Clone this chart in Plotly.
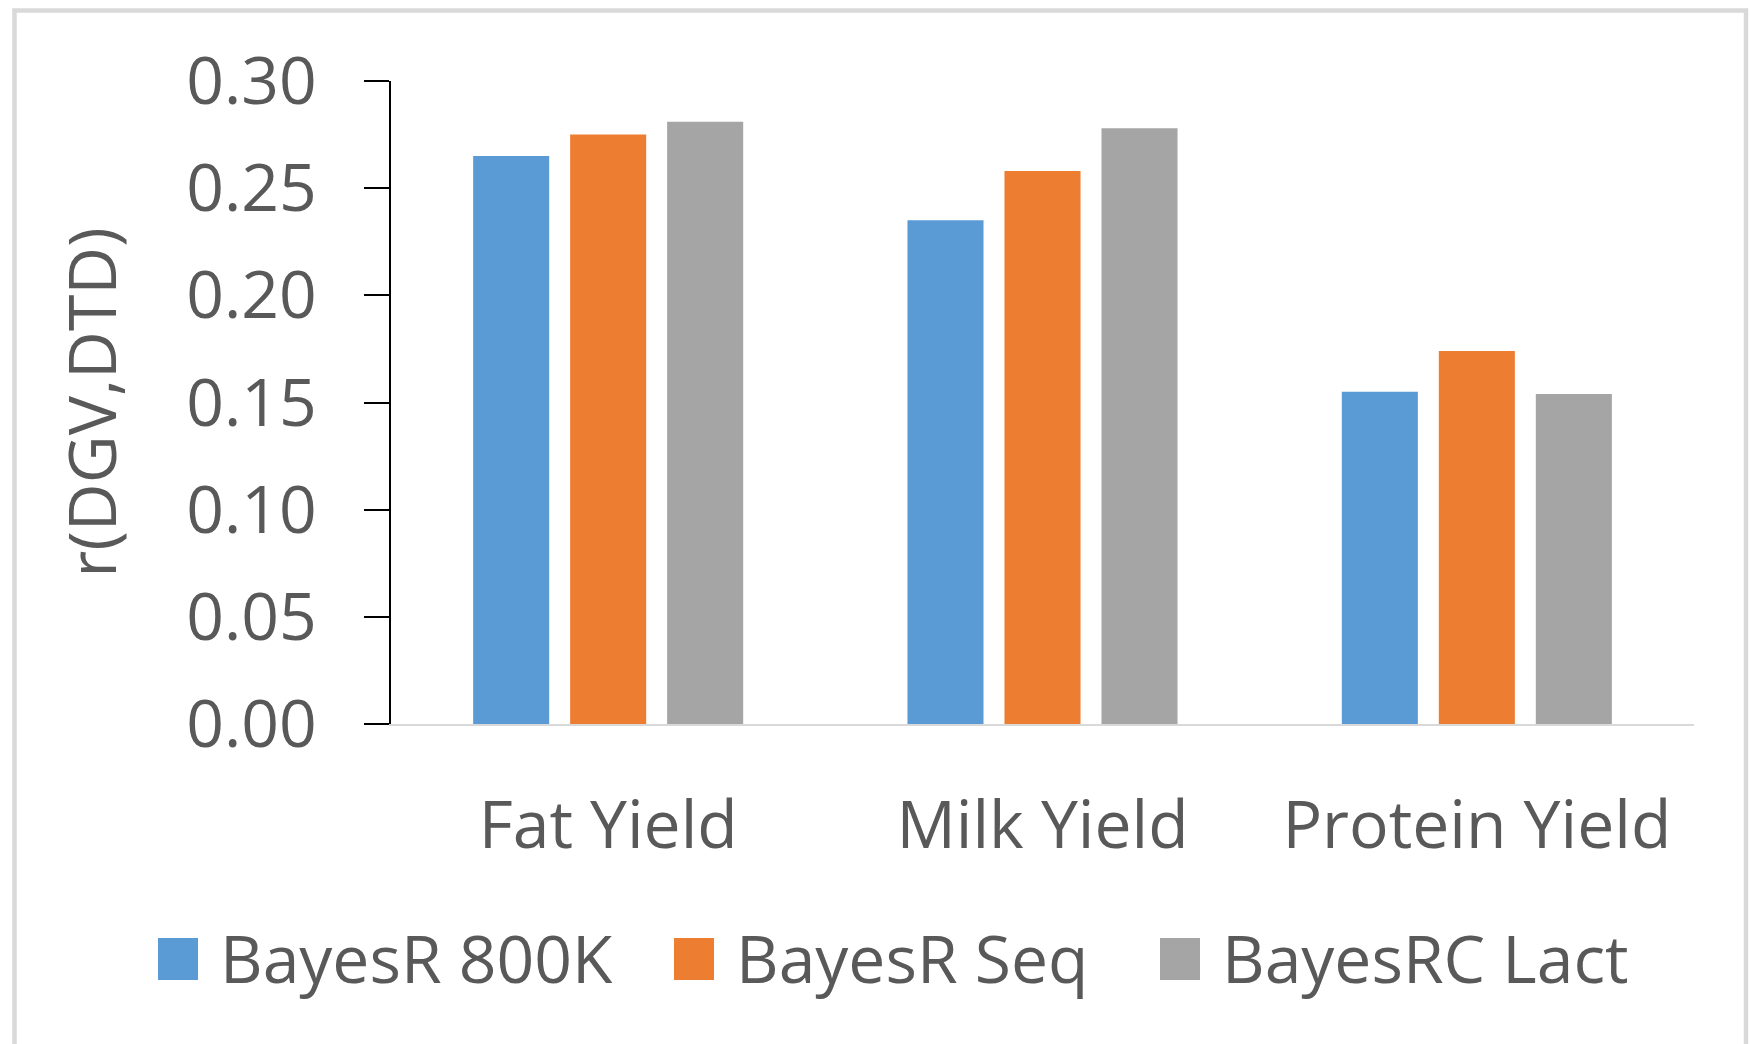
import plotly.graph_objects as go

# Prediction accuracy r(DGV,DTD) per trait and method
traits = ["Fat Yield", "Milk Yield", "Protein Yield"]
methods = ["BayesR 800K", "BayesR Seq", "BayesRC Lact"]
bayesr_800k = [0.265, 0.235, 0.155]
bayesr_seq = [0.275, 0.258, 0.174]
bayesrc_lact = [0.281, 0.278, 0.154]
y_ticks = [0.00, 0.05, 0.10, 0.15, 0.20, 0.25, 0.30]

colors = ["#5B9BD5", "#ED7D31", "#A5A5A5"]
text_color = "#595959"
font_family = "Open Sans"
font_size = 66

W, H = 1750, 1044
margin = dict(l=391, r=56, t=81, b=320)
plot_w = W - margin["l"] - margin["r"]
plot_h = H - margin["t"] - margin["b"]


def px_x(x):
    """Pixel column -> paper x."""
    return (x - margin["l"]) / plot_w


def px_y(y):
    """Pixel row -> paper y."""
    return (H - margin["b"] - y) / plot_h


fig = go.Figure()
for name, vals, col in zip(methods, [bayesr_800k, bayesr_seq, bayesrc_lact], colors):
    fig.add_trace(go.Bar(x=traits, y=vals, name=name, marker_color=col,
                         marker_line_width=0, showlegend=False))

# Legend: colour swatches with labels in one row under the chart
shapes = []
annotations = []
legend_items = [(158, 218), (674, 734), (1160, 1220)]
for (sx, tx), name, col in zip(legend_items, methods, colors):
    shapes.append(dict(type="rect", xref="paper", yref="paper",
                       x0=px_x(sx), x1=px_x(sx + 40), y0=px_y(980), y1=px_y(938),
                       fillcolor=col, line_width=0))
    annotations.append(dict(xref="paper", yref="paper", x=px_x(tx), y=px_y(957),
                            text=name, showarrow=False, xanchor="left", yanchor="middle",
                            font=dict(family=font_family, size=font_size, color=text_color)))

# Light grey chart frame
shapes.append(dict(type="rect", xref="paper", yref="paper", layer="below",
                   x0=px_x(14.5), x1=px_x(1746), y0=px_y(1060), y1=px_y(10.5),
                   line=dict(color="#D9D9D9", width=4.5), fillcolor="rgba(0,0,0,0)"))

fig.update_layout(
    width=W, height=H, margin=margin,
    paper_bgcolor="white", plot_bgcolor="white",
    barmode="group", bargap=0.33, bargroupgap=0.216,
    font=dict(family=font_family, size=font_size, color=text_color),
    shapes=shapes, annotations=annotations,
    showlegend=False,
)
fig.update_xaxes(
    range=[-0.5, 2.5], showline=True, linecolor="#D9D9D9", linewidth=2,
    ticks="", showgrid=False, zeroline=False, ticklabelstandoff=43,
    tickfont=dict(family=font_family, size=font_size, color=text_color),
)
fig.update_yaxes(
    range=[0, 0.30], tickvals=y_ticks, tickformat=".2f",
    showline=True, linecolor="#000000", linewidth=2,
    ticks="outside", ticklen=25, tickwidth=2, tickcolor="#000000",
    ticklabelstandoff=34, showgrid=False, zeroline=False,
    tickfont=dict(family=font_family, size=font_size, color=text_color),
    title=dict(text="r(DGV,DTD)", standoff=48,
               font=dict(family=font_family, size=font_size, color=text_color)),
)

fig.write_html("out.html")
